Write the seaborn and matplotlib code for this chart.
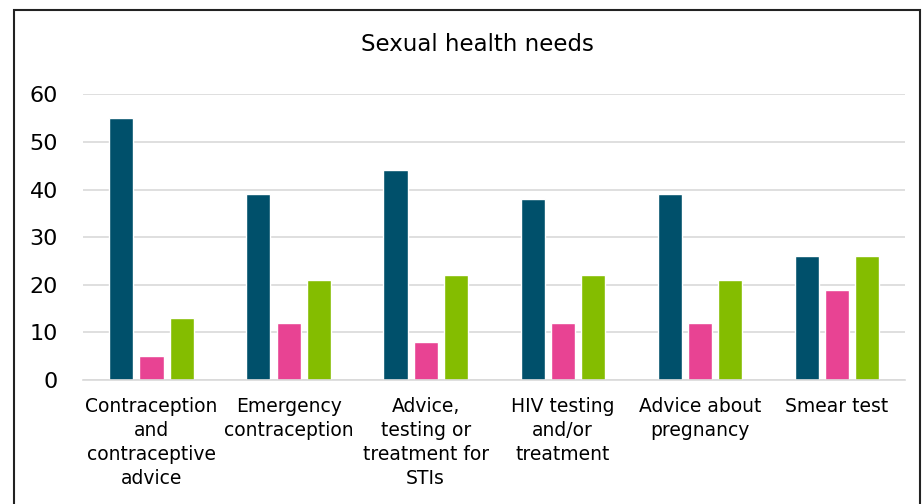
import pandas as pd
import matplotlib.pyplot as plt
import seaborn as sns
from matplotlib.patches import Rectangle

# Data
categories = [
    "Contraception\nand\ncontraceptive\nadvice",
    "Emergency\ncontraception",
    "Advice,\ntesting or\ntreatment for\nSTIs",
    "HIV testing\nand/or\ntreatment",
    "Advice about\npregnancy",
    "Smear test",
]
series_names = ["Series 1", "Series 2", "Series 3"]
series1 = [55, 39, 44, 38, 39, 26]
series2 = [5, 12, 8, 12, 12, 19]
series3 = [13, 21, 22, 22, 21, 26]
colors = ["#00506B", "#E84393", "#84BD00"]

rows = []
for name, vals in zip(series_names, [series1, series2, series3]):
    for cat, v in zip(categories, vals):
        rows.append({"category": cat, "series": name, "value": v})
df = pd.DataFrame(rows)

sns.set_style("white")
plt.rcParams['font.family'] = ['DejaVu Sans']

fig = plt.figure(figsize=(9.22, 5.04), dpi=100)
ax = fig.add_axes([0.09, 0.246, 0.892, 0.567])

sns.barplot(data=df, x="category", y="value", hue="series", palette=colors,
            width=0.66, gap=0.2, legend=False, ax=ax, saturation=1)

ax.set_ylim(0, 60)
ax.set_yticks([0, 10, 20, 30, 40, 50, 60])
ax.yaxis.grid(True, color="#D9D9D9", linewidth=1.2)
ax.set_axisbelow(True)
for s in ["top", "right", "left"]:
    ax.spines[s].set_visible(False)
ax.spines["bottom"].set_color("#D9D9D9")
ax.spines["bottom"].set_linewidth(1.2)
ax.tick_params(axis="both", length=0, labelcolor="black")
ax.tick_params(axis="y", labelsize=16, pad=18)
ax.tick_params(axis="x", labelsize=13.5, pad=12)
for lbl in ax.get_xticklabels():
    lbl.set_linespacing(1.35)
ax.set_xlabel("")
ax.set_ylabel("")

fig.text(0.518, 0.911, "Sexual health needs", ha="center", va="center",
         fontsize=16.5, color="black")

# outer chart border
fig.patches.append(Rectangle((14 / 922, -0.1), 906 / 922, 1 - 10 / 504 + 0.1,
                             transform=fig.transFigure, fill=False,
                             edgecolor="#222222", linewidth=1.5))

fig.savefig("out.png", dpi=100)
